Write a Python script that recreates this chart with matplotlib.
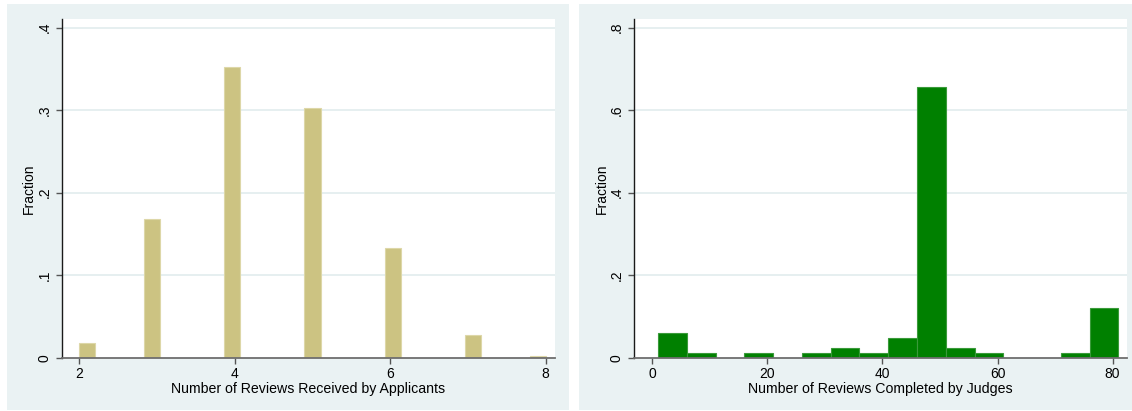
import numpy as np
import matplotlib
matplotlib.use("Agg")
import matplotlib.pyplot as plt
from matplotlib.patches import Rectangle

plt.rcParams['font.family'] = ['Liberation Sans', 'DejaVu Sans']

# ---- Data ----
# Left: reviews received by applicants (discrete values) and fractions
applicant_reviews = [2, 3, 4, 5, 6, 7, 8]
applicant_fraction = [0.018, 0.168, 0.352, 0.303, 0.133, 0.027, 0.002]
applicant_bins = 29          # Stata-style histogram bins over [2, 8]

# Right: reviews completed by judges, bins of width 5 starting at 1
judge_bin_start = [1, 6, 16, 26, 31, 36, 41, 46, 51, 56, 71, 76]
judge_fraction = [0.060, 0.012, 0.012, 0.012, 0.024, 0.012, 0.048, 0.655,
                  0.024, 0.012, 0.012, 0.120]
judge_bin_width = 5

left_xticks = [2, 4, 6, 8]
left_yticks = [0, 0.1, 0.2, 0.3, 0.4]
left_yticklabels = ["0", ".1", ".2", ".3", ".4"]
right_xticks = [0, 20, 40, 60, 80]
right_yticks = [0, 0.2, 0.4, 0.6, 0.8]
right_yticklabels = ["0", ".2", ".4", ".6", ".8"]

BG = "#EAF2F3"
W, H = 1132, 411
fig = plt.figure(figsize=(W / 100, H / 100), dpi=100, facecolor="white")

# panel backgrounds
fig.patches.append(Rectangle((7 / W, 1 - 410 / H), (569 - 7) / W, (410 - 4) / H,
                             transform=fig.transFigure, facecolor=BG, edgecolor="none", zorder=-5))
fig.patches.append(Rectangle((579 / W, 1 - 410 / H), (1132 - 579) / W, (410 - 4) / H,
                             transform=fig.transFigure, facecolor=BG, edgecolor="none", zorder=-5))

def px_axes(x0, x1, ytop, ybot):
    ax = fig.add_axes([x0 / W, 1 - ybot / H, (x1 - x0) / W, (ybot - ytop) / H])
    ax.set_zorder(2)
    return ax

axL = px_axes(62, 555, 19, 357.7)
axR = px_axes(634.3, 1127, 19, 357.7)

def style(ax, yticks, ylabels, xticks, xlabel):
    ax.set_facecolor("white")
    for s in ("top", "right"):
        ax.spines[s].set_visible(False)
    ax.spines["left"].set_color("#1a1a1a")
    ax.spines["bottom"].set_color("#6e6e6e")
    ax.spines["left"].set_linewidth(1.0)
    ax.spines["bottom"].set_linewidth(1.3)
    ax.set_yticks(yticks)
    ax.set_yticklabels(ylabels, rotation=90, va="center", fontsize=10)
    ax.set_xticks(xticks)
    ax.set_xticklabels([str(t) for t in xticks], fontsize=10)
    ax.tick_params(axis="both", direction="out", length=4.5, width=1.0, color="#555555", pad=2)
    ax.tick_params(axis="y", pad=3)
    for t in yticks[1:]:
        ax.axhline(t, color="#E4EEEF", lw=1.3, zorder=0.5)
    ax.set_ylabel("Fraction", fontsize=10, labelpad=1)
    ax.set_xlabel(xlabel, fontsize=10.2, labelpad=1)

# left histogram (Stata style bins)
edges = np.linspace(2, 8, applicant_bins + 1)
counts, _ = np.histogram(applicant_reviews, bins=edges, weights=applicant_fraction)
nz = counts > 0
axL.bar(edges[:-1][nz], counts[nz], width=np.diff(edges)[nz], align="edge",
        color="#CCC382", edgecolor="#DDD7A8", linewidth=0.8, zorder=2)
axL.set_xlim(1.777, 8.12)
axL.set_ylim(0, 0.4105)
style(axL, left_yticks, left_yticklabels, left_xticks, "Number of Reviews Received by Applicants")

# right histogram
axR.bar(judge_bin_start, judge_fraction, width=judge_bin_width, align="edge",
        color="#008000", edgecolor="#3a9a3a", linewidth=0.8, zorder=2)
axR.set_xlim(-3.13, 82.5)
axR.set_ylim(0, 0.821)
style(axR, right_yticks, right_yticklabels, right_xticks, "Number of Reviews Completed by Judges")

fig.savefig("out.png", dpi=100, facecolor="white")
